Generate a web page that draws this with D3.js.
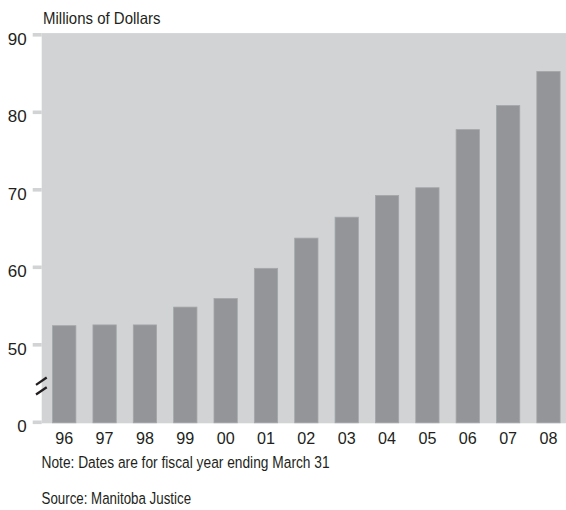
<!DOCTYPE html>
<html>
<head>
<meta charset="utf-8">
<script src="https://cdn.jsdelivr.net/npm/d3@7"></script>
<style>
  body { margin: 0; background: #fff; }
  text { font-family: "Liberation Sans", Arial, sans-serif; fill: #231f20; }
</style>
</head>
<body>
<div id="chart"></div>
<script>
// fiscal years (ending March 31) and spending, millions of dollars
const years = ['96', '97', '98', '99', '00', '01', '02', '03', '04', '05', '06', '07', '08'];
const spending = [52.4, 52.5, 52.5, 54.8, 55.9, 59.8, 63.7, 66.4, 69.2, 70.2, 77.7, 80.8, 85.2];

// axis is broken: the "0" label sits where 40 would be
const yTickValues = [40, 50, 60, 70, 80, 90];
const yTickLabels = ['0', '50', '60', '70', '80', '90'];

const yTitle = 'Millions of Dollars';
const note = 'Note: Dates are for fiscal year ending March 31';
const source = 'Source: Manitoba Justice';

const bgColor = '#d1d3d4';
const barColor = '#939598';

function drawChart() {
    d3.select('#chart').html('');

    const svg = d3.select('#chart')
        .append('svg')
        .attr('width', 566)
        .attr('height', 510);

    const x = d3.scaleBand()
        .domain(years)
        .range([41.7, 571])
        .paddingInner(0.423)
        .paddingOuter(0.27);

    const y = d3.scaleLinear()
        .domain([40, 90])
        .range([421.8, 34.3]);

    // plot background
    svg.append('rect')
        .attr('x', 41.7)
        .attr('y', y(90) - 1.2)
        .attr('width', 566 - 41.7)
        .attr('height', y(40) + 1.5 - (y(90) - 1.2))
        .attr('fill', bgColor);

    // y axis: light grey tick stubs, no domain line
    const yAxis = d3.axisLeft(y)
        .tickValues(yTickValues)
        .tickSize(9)
        .tickPadding(6)
        .tickFormat((d, i) => yTickLabels[i]);

    const gy = svg.append('g')
        .attr('transform', 'translate(41.7,0)')
        .call(yAxis);
    gy.select('.domain').remove();
    gy.selectAll('.tick line')
        .attr('stroke', bgColor)
        .attr('stroke-width', 3.6);
    gy.selectAll('.tick text')
        .attr('font-size', 17)
        .attr('dy', '0.58em')
        .style('font-family', '"Liberation Sans", Arial, sans-serif')
        .style('fill', '#231f20');

    // bars
    svg.selectAll('rect.bar')
        .data(spending)
        .enter()
        .append('rect')
        .attr('class', 'bar')
        .attr('x', (d, i) => x(years[i]))
        .attr('y', (d) => y(d))
        .attr('width', x.bandwidth())
        .attr('height', (d) => y(40) + 1 - y(d))
        .attr('fill', barColor)
        .attr('stroke', '#a4a6a9')
        .attr('stroke-width', 0.8);

    // x axis labels
    const xAxis = d3.axisBottom(x)
        .tickSize(0)
        .tickPadding(9);

    const gx = svg.append('g')
        .attr('transform', 'translate(0,' + (y(40) + 1.5) + ')')
        .call(xAxis);
    gx.select('.domain').remove();
    gx.selectAll('.tick text')
        .attr('font-size', 17)
        .attr('transform', 'scale(0.95,1)')
        .style('font-family', '"Liberation Sans", Arial, sans-serif')
        .style('fill', '#231f20');

    // axis break marks
    const yb = y(45) + 3;
    [-4.85, 4.85].forEach((off) => {
        svg.append('line')
            .attr('x1', 36)
            .attr('y1', yb + off + 3.65)
            .attr('x2', 46.7)
            .attr('y2', yb + off - 3.65)
            .attr('stroke', '#231f20')
            .attr('stroke-width', 2.3);
    });

    // title and footnotes (narrow face in the original, squeezed here)
    svg.append('text')
        .attr('transform', 'translate(43,24) scale(0.92,1)')
        .attr('font-size', 16.3)
        .text(yTitle);

    svg.append('text')
        .attr('transform', 'translate(41.5,467.5) scale(0.8,1)')
        .attr('font-size', 17.2)
        .text(note);

    svg.append('text')
        .attr('transform', 'translate(41.5,503.5) scale(0.775,1)')
        .attr('font-size', 17.2)
        .text(source);
}

drawChart();
</script>
</body>
</html>
